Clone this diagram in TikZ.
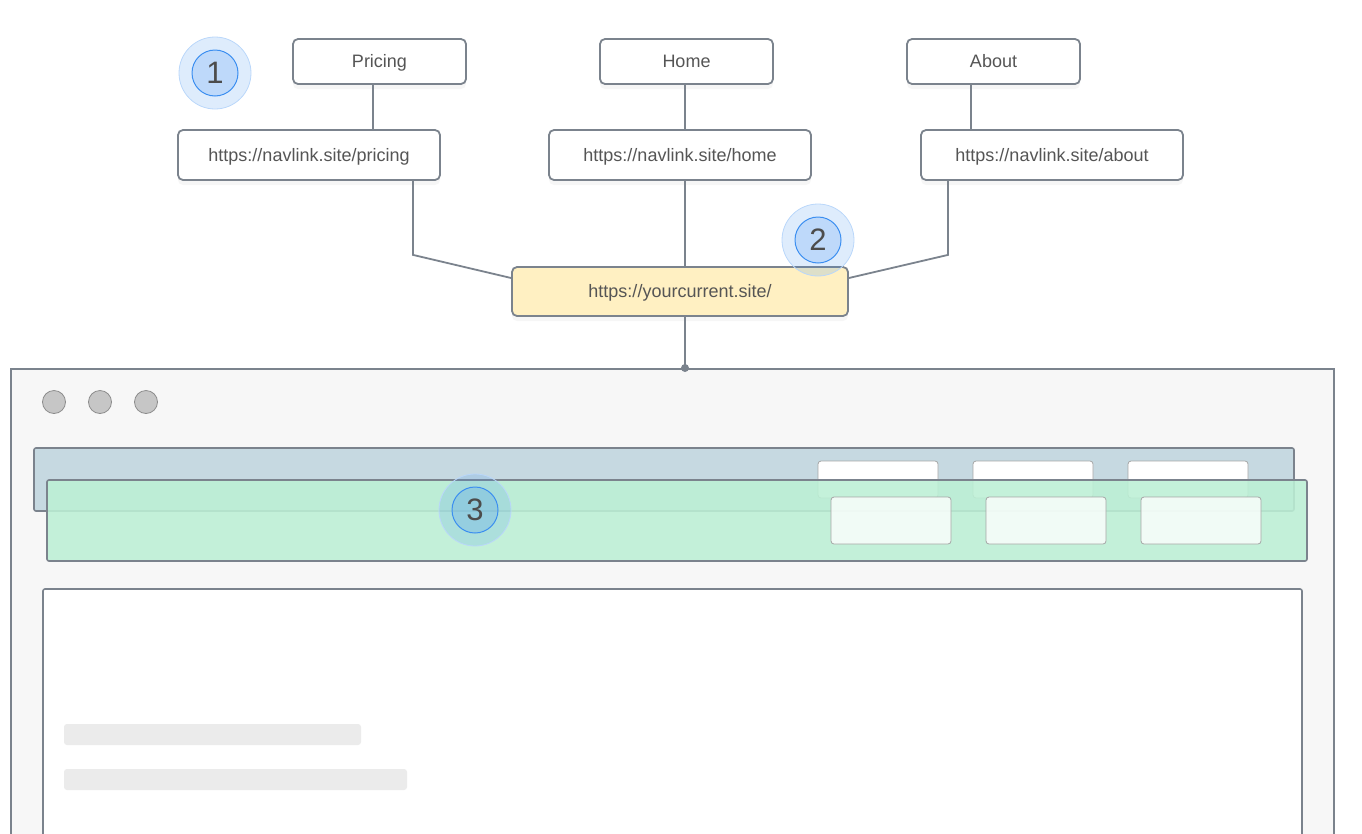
\documentclass[tikz,border=0pt]{standalone}
\usepackage{fontspec}
\setmainfont{Liberation Sans}
\usetikzlibrary{shadows}
\definecolor{linegray}{HTML}{7B838D}
\definecolor{textgray}{HTML}{555555}
\definecolor{urlyellow}{HTML}{FFF0C2}
\definecolor{winfill}{HTML}{F7F7F7}
\definecolor{dotgray}{HTML}{C6C6C6}
\definecolor{navblue}{HTML}{C6D9E1}
\definecolor{navgreen}{HTML}{BCF0D5}
\definecolor{barfill}{HTML}{EBEBEB}
\definecolor{badgeblue}{HTML}{3B8EF0}
\begin{document}
\begin{tikzpicture}[x=1pt, y=-1pt,
  font=\fontsize{18}{20}\selectfont, text=textgray,
  box/.style={draw=linegray, line width=1.8pt, rounded corners=5pt, fill=white, align=center, inner sep=0pt,
    text height=12.5pt, text depth=0.5pt,
    drop shadow={opacity=0.07, shadow xshift=0pt, shadow yshift=-5pt}},
  page/.style={box, minimum width=173pt, minimum height=45pt},
  url/.style={box, minimum width=262pt, minimum height=50pt},
  link/.style={draw=linegray, line width=1.8pt},
  panel/.style={draw=linegray, line width=1.6pt, rounded corners=2pt, inner sep=0pt},
  btn/.style={draw=black!35, line width=0.8pt, rounded corners=3pt, fill=white, minimum width=120pt, inner sep=0pt},
  ring/.style={circle, draw=badgeblue!35, line width=0.8pt, fill=badgeblue, fill opacity=0.17, minimum size=72pt, inner sep=0pt},
  badge/.style={circle, draw=badgeblue, line width=1pt, fill=badgeblue, fill opacity=0.2, text opacity=1,
    minimum size=46pt, inner sep=0pt, font=\fontsize{31}{31}\selectfont, text=black!70}]
\useasboundingbox (0,0) rectangle (1362,833);
% pages and their links
\node[page] (pricing) at (379.5,61.5) {Pricing};
\node[page] (home)    at (686.5,61.5) {Home};
\node[page] (about)   at (993.5,61.5) {About};
\node[url] (pricingurl) at (309,155) {https://navlink.site/pricing};
\node[url] (homeurl)    at (680,155) {https://navlink.site/home};
\node[url] (abouturl)   at (1052,155) {https://navlink.site/about};
\node[url, fill=urlyellow, minimum width=336pt, minimum height=49pt] (current) at (680,291.5) {https://yourcurrent.site/};
\draw[link] ([xshift=-6.5pt]pricing.south) -- ([xshift=-6.5pt]pricing.south |- pricingurl.north);
\draw[link] ([xshift=-1.5pt]home.south) -- ([xshift=-1.5pt]home.south |- homeurl.north);
\draw[link] ([xshift=-22.5pt]about.south) -- ([xshift=-22.5pt]about.south |- abouturl.north);
\draw[link] ([xshift=104pt]pricingurl.south) -- ++(0,74) -- ([yshift=13.5pt]current.west);
\draw[link] ([xshift=5pt]homeurl.south) -- ([xshift=5pt]current.north);
\draw[link] ([xshift=-104pt]abouturl.south) -- ++(0,74) -- ([yshift=13.5pt]current.east);
% browser window
\node[panel, rounded corners=0pt, line width=2pt, fill=winfill, minimum width=1323pt, minimum height=502pt] (window) at (672.5,620) {};
\coordinate (hook) at ([xshift=5pt]current.south |- window.north);
\draw[link] ([xshift=5pt]current.south) -- (hook);
\fill[linegray] (hook) circle (4pt);
\foreach \i/\x in {1/54,2/100,3/146}
  \node[circle, draw=black!45, line width=0.8pt, fill=dotgray, minimum size=23pt, inner sep=0pt] (dot\i) at (\x,402) {};
\node[panel, fill=navblue, minimum width=1260pt, minimum height=63pt] (navbar) at (664,479.5) {};
\foreach \i/\x in {1/878,2/1033,3/1188}
  \node[btn, minimum height=37pt] (oldbtn\i) at (\x,479.5) {};
\node[panel, fill=navgreen, fill opacity=0.88, minimum width=1260pt, minimum height=81pt] (navcopy) at (677,520.5) {};
\foreach \i/\x in {1/891,2/1046,3/1201}
  \node[btn, fill opacity=0.78, minimum height=47pt] (newbtn\i) at (\x,520.5) {};
% page content
\node[panel, fill=white, minimum width=1259pt, minimum height=322pt] (content) at (672.5,750) {};
\node[fill=barfill, rounded corners=3pt, minimum width=297pt, minimum height=21pt, inner sep=0pt] (line1) at (212.5,734.5) {};
\node[fill=barfill, rounded corners=3pt, minimum width=343pt, minimum height=21pt, inner sep=0pt] (line2) at (235.5,779.5) {};
% numbered badges
\foreach \n/\p in {1/{215,73},2/{818,240},3/{475,510}} {
  \node[ring] (ring\n) at (\p) {};
  \node[badge] (badge\n) at (ring\n) {\n};
}
\end{tikzpicture}
\end{document}
